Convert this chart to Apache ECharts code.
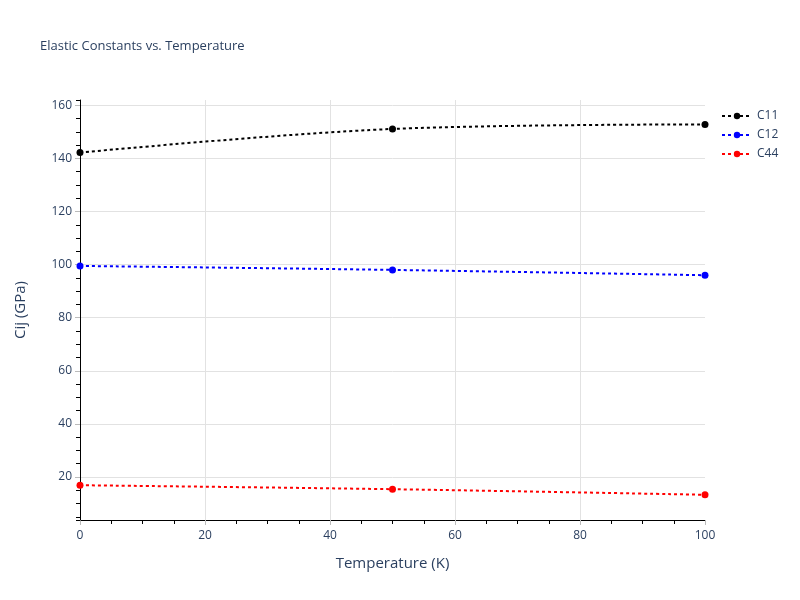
<!DOCTYPE html>
<html>
<head>
<meta charset="utf-8">
<script src="https://cdn.jsdelivr.net/npm/echarts@6/dist/echarts.min.js"></script>
<style>html,body{margin:0;padding:0;background:#fff}#c{width:800px;height:600px}</style>
</head>
<body>
<div id="c"></div>
<script>
const temps = [0, 50, 100];
const c11 = [142.2, 151.1, 152.8];
const c12 = [99.5, 98.0, 96.0];
const c44 = [16.9, 15.4, 13.3];
const seriesNames = ['C11', 'C12', 'C44'];
const seriesColors = ['#000000', '#0000ff', '#ff0000'];
const seriesValues = [c11, c12, c44];

const txt = '#2a3f5f';
const font = '"Open Sans", "Noto Sans", sans-serif';
const chart = echarts.init(document.getElementById('c'), null, {renderer: 'canvas'});

const series = seriesNames.map((n, i) => ({
  name: n,
  type: 'line',
  smooth: 0.35,
  data: temps.map((t, j) => [t, seriesValues[i][j]]),
  symbol: 'circle',
  symbolSize: 7,
  itemStyle: {color: seriesColors[i]},
  lineStyle: {color: seriesColors[i], width: 2, type: [3, 3]},
  emphasis: {disabled: true}
}));

chart.setOption({
  animation: false,
  backgroundColor: '#fff',
  title: {
    text: 'Elastic Constants vs. Temperature',
    left: 35, top: 35,
    textStyle: {color: txt, fontSize: 13, fontWeight: 'normal', fontFamily: font}
  },
  legend: {
    orient: 'vertical', left: 716, top: 105,
    itemWidth: 30, itemHeight: 8, itemGap: 7,
    textStyle: {color: txt, fontSize: 12, fontFamily: font},
    data: seriesNames
  },
  grid: {left: 80, right: 95, top: 100, bottom: 80},
  xAxis: {
    type: 'value', min: 0, max: 100, interval: 20,
    name: 'Temperature (K)', nameLocation: 'middle', nameGap: 36,
    nameTextStyle: {color: txt, fontSize: 15, fontFamily: font},
    axisLine: {show: true, onZero: false, lineStyle: {color: '#000', width: 1}},
    axisTick: {show: true, length: 5, lineStyle: {color: '#bbbbbb'}},
    minorTick: {show: true, splitNumber: 4, length: 4, lineStyle: {color: '#000'}},
    axisLabel: {color: txt, fontSize: 12, fontFamily: font, margin: 10},
    splitLine: {show: true, showMaxLine: false, lineStyle: {color: '#e2e2e2', width: 1}}
  },
  yAxis: [{
    type: 'value', min: 3.8, max: 162, splitNumber: 8,
    name: 'Cij (GPa)', nameLocation: 'middle', nameGap: 52,
    nameTextStyle: {color: txt, fontSize: 15, fontFamily: font},
    axisLine: {show: true, onZero: false, lineStyle: {color: '#000', width: 1}},
    axisTick: {show: true, length: 5, lineStyle: {color: '#bbbbbb'}},
    axisLabel: {color: txt, fontSize: 12, fontFamily: font, margin: 8, showMinLabel: false, showMaxLabel: false},
    splitLine: {show: true, showMinLine: false, showMaxLine: false, lineStyle: {color: '#e2e2e2', width: 1}},
    z: 2
  }, {
    type: 'value', min: 3.8, max: 162, splitNumber: 32, position: 'left',
    axisLine: {show: false},
    axisTick: {show: true, length: 4, lineStyle: {color: '#000'}},
    axisLabel: {show: false},
    splitLine: {show: false},
    z: 1
  }],
  series: series
});
</script>
</body>
</html>
